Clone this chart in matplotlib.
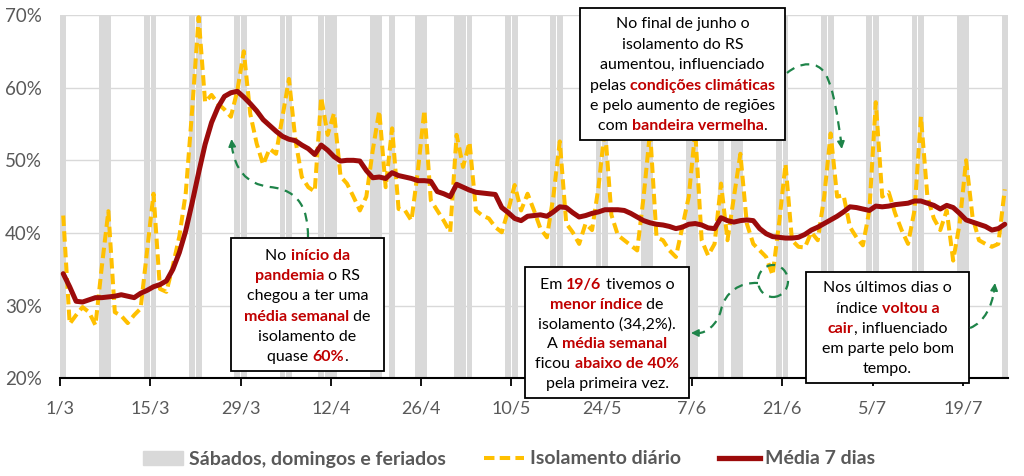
import numpy as np
import pandas as pd
import matplotlib
matplotlib.use("Agg")
import matplotlib.pyplot as plt
from matplotlib.patches import Rectangle, Ellipse, PathPatch, FancyArrowPatch, Patch
from matplotlib.lines import Line2D
from matplotlib.path import Path

# --- dados ---
inicio = "2020-03-01"

isolamento_diario = [
    42.4, 27.5, 28.7, 29.8, 29.1, 27.3, 35.5, 43.0, 29.1, 28.6,
    27.6, 28.7, 29.6, 37.5, 45.4, 32.3, 31.9, 35.5, 39.5, 45.5,
    57.0, 69.7, 58.0, 59.0, 57.8, 57.0, 56.0, 59.6, 65.0, 56.4,
    52.3, 49.4, 51.6, 50.9, 56.0, 61.2, 52.8, 47.7, 46.3, 45.7,
    58.7, 53.5, 56.5, 47.8, 46.8, 45.0, 43.1, 45.0, 51.4, 56.8,
    46.3, 54.4, 43.3, 43.1, 41.7, 48.6, 56.9, 44.5, 43.1, 41.7,
    40.1, 53.5, 49.1, 52.5, 43.1, 42.4, 42.0, 40.8, 40.1, 43.1,
    46.6, 43.1, 45.4, 43.1, 40.6, 39.4, 45.0, 52.6, 41.3, 40.1,
    38.5, 41.3, 40.4, 46.3, 54.5, 42.5, 39.7, 39.0, 38.3, 37.6,
    45.0, 54.0, 39.4, 39.0, 37.6, 36.7, 40.8, 45.0, 54.0, 39.0,
    36.9, 38.5, 46.8, 39.0, 45.0, 50.9, 41.3, 38.5, 37.6, 36.7,
    34.2, 41.3, 49.5, 39.0, 38.1, 38.0, 40.1, 39.0, 45.0, 53.7,
    45.0, 45.2, 40.8, 39.4, 38.3, 43.1, 58.0, 45.0, 45.6, 42.7,
    40.4, 38.5, 43.1, 56.0, 45.0, 42.0, 40.4, 43.1, 36.2, 41.3,
    50.0, 42.2, 39.0, 38.5, 38.1, 38.5, 46.0,
]

media_7_dias = [
    34.4, 32.6, 30.6, 30.5, 30.8, 31.1, 31.1, 31.2, 31.3, 31.5,
    31.3, 31.1, 31.7, 32.1, 32.6, 32.9, 33.4, 35.0, 37.3, 40.3,
    44.2, 48.3, 52.2, 55.2, 57.3, 58.8, 59.3, 59.5, 58.7, 57.8,
    56.8, 55.6, 54.8, 54.0, 53.3, 52.9, 52.7, 52.1, 51.6, 50.8,
    52.1, 51.4, 50.5, 49.9, 50.0, 50.0, 49.9, 48.6, 47.6, 47.7,
    47.5, 48.3, 47.9, 47.7, 47.5, 47.2, 47.2, 47.1, 45.7, 45.4,
    45.0, 46.7, 46.3, 45.9, 45.6, 45.5, 45.4, 45.3, 43.5, 42.8,
    42.0, 41.7, 42.3, 42.4, 42.5, 42.3, 42.9, 43.6, 43.5, 42.8,
    42.2, 42.4, 42.7, 42.9, 43.2, 43.2, 43.2, 43.1, 42.7, 42.2,
    41.7, 41.4, 41.2, 41.1, 40.9, 40.6, 40.8, 41.2, 41.3, 41.1,
    40.7, 40.6, 42.1, 41.7, 41.5, 41.7, 41.8, 41.7, 40.6, 39.9,
    39.5, 39.4, 39.3, 39.3, 39.4, 39.8, 40.4, 40.8, 41.3, 41.8,
    42.3, 42.9, 43.6, 43.5, 43.3, 43.1, 43.7, 43.6, 43.7, 43.9,
    44.0, 44.1, 44.4, 44.4, 44.1, 43.8, 43.3, 43.8, 43.5, 42.7,
    41.8, 41.5, 41.2, 40.9, 40.4, 40.6, 41.2,
]

# sábados, domingos e feriados
dias_cinza = [
    "2020-03-01", "2020-03-07", "2020-03-08", "2020-03-14", "2020-03-15",
    "2020-03-21", "2020-03-22", "2020-03-28", "2020-03-29",
    "2020-04-04", "2020-04-05", "2020-04-10", "2020-04-11", "2020-04-12",
    "2020-04-18", "2020-04-19", "2020-04-21", "2020-04-25", "2020-04-26",
    "2020-05-01", "2020-05-02", "2020-05-03", "2020-05-09", "2020-05-10",
    "2020-05-16", "2020-05-17", "2020-05-23", "2020-05-24", "2020-05-30",
    "2020-05-31", "2020-06-06", "2020-06-07", "2020-06-11", "2020-06-13",
    "2020-06-14", "2020-06-20", "2020-06-21", "2020-06-27", "2020-06-28",
    "2020-07-04", "2020-07-05", "2020-07-11", "2020-07-12", "2020-07-18",
    "2020-07-19", "2020-07-25",
]

xtick_labels = ["1/3", "15/3", "29/3", "12/4", "26/4", "10/5", "24/5",
                "7/6", "21/6", "5/7", "19/7"]
ytick_vals = [20, 30, 40, 50, 60, 70]
ytick_labels = ["20%", "30%", "40%", "50%", "60%", "70%"]

# --- cores ---
cinza = "#d9d9d9"
amarelo = "#ffc000"
vermelho = "#9c0b0b"
verm_txt = "#c00000"
verde = "#1e8449"
txt_cinza = "#595959"

plt.rcParams["font.family"] = ["Lato", "DejaVu Sans"]

W, H = 1024, 476
fig = plt.figure(figsize=(W / 100, H / 100), dpi=100)


def fx(x):
    return x / W


def fy(y):
    return 1 - y / H


ax = fig.add_axes([fx(60), fy(378.3), (1008 - 60) / W, (378.3 - 15) / H])

n = len(isolamento_diario)
x = np.arange(n) + 0.5
t0 = pd.Timestamp(inicio)
x_cinza = np.array([(pd.Timestamp(d) - t0).days for d in dias_cinza]) + 0.5

ax.bar(x_cinza, 50, bottom=20, width=0.92, color=cinza, zorder=1)
ax.plot(x, isolamento_diario, color=amarelo, lw=2.9, dashes=(2.6, 1.3), zorder=3)
ax.plot(x, media_7_dias, color=vermelho, lw=3.6, zorder=4, solid_capstyle="round")

ax.set_xlim(0, n)
ax.set_ylim(20, 70)
ax.set_axisbelow(True)
ax.yaxis.grid(True, color=cinza, lw=1)
ax.set_yticks(ytick_vals)
ax.set_yticklabels(ytick_labels)
ax.set_xticks(np.arange(len(xtick_labels)) * 14)
ax.set_xticklabels(xtick_labels)
for s in ["top", "right", "left"]:
    ax.spines[s].set_visible(False)
ax.spines["bottom"].set_color("black")
ax.spines["bottom"].set_linewidth(1.5)
ax.tick_params(axis="y", length=0, pad=13, labelsize=13.5, labelcolor=txt_cinza)
ax.tick_params(axis="x", direction="out", length=6, width=1.3, color="black",
               pad=10, labelsize=13, labelcolor=txt_cinza)

# --- legenda ---
handles = [
    Patch(color=cinza, label="Sábados, domingos e feriados"),
    Line2D([], [], color=amarelo, lw=2.9, dashes=(2.6, 1.3), label="Isolamento diário"),
    Line2D([], [], color=vermelho, lw=3.8, label="Média 7 dias"),
]
fig.legend(handles=handles, loc="center", bbox_to_anchor=(0.497, fy(459)), ncol=3,
           frameon=False, prop={"weight": "bold", "size": 14},
           labelcolor=txt_cinza, handlelength=2.1, handletextpad=0.28,
           columnspacing=1.95)

# --- caixas de texto ---
renderer = fig.canvas.get_renderer()


def largura(txt, bold, size):
    t1 = fig.text(0, 0, "|" + txt + "|", fontsize=size, weight="bold" if bold else "normal")
    t2 = fig.text(0, 0, "||", fontsize=size, weight="bold" if bold else "normal")
    w = t1.get_window_extent(renderer).width - t2.get_window_extent(renderer).width
    t1.remove()
    t2.remove()
    return w


def caixa(x0, y0, x1, y1, linhas, ys, size=11.5):
    fig.add_artist(Rectangle((fx(x0), fy(y1)), (x1 - x0) / W, (y1 - y0) / H,
                             transform=fig.transFigure, facecolor="white",
                             edgecolor="black", lw=1.3, zorder=5))
    cx = (x0 + x1) / 2
    for segs, yc in zip(linhas, ys):
        ws = [largura(s, b, size) for s, b in segs]
        xs = cx - sum(ws) / 2
        for (s, b), w in zip(segs, ws):
            fig.text(fx(xs), fy(yc + 5), s, fontsize=size, ha="left", va="baseline",
                     weight="bold" if b else "normal",
                     color=verm_txt if b else "black", zorder=6)
            xs += w


caixa(231, 238, 384, 371, [
    [("No ", 0), ("início da", 1)],
    [("pandemia", 1), (" o RS", 0)],
    [("chegou a ter uma", 0)],
    [("média semanal", 1), (" de", 0)],
    [("isolamento de", 0)],
    [("quase ", 0), ("60%", 1), (".", 0)],
], [255, 275, 295, 316, 336, 356])

caixa(525, 267, 689, 398, [
    [("Em ", 0), ("19/6", 1), (" tivemos o", 0)],
    [("menor índice", 1), (" de", 0)],
    [("isolamento (34,2%).", 0)],
    [("A ", 0), ("média semanal", 1)],
    [("ficou ", 0), ("abaixo de 40%", 1)],
    [("pela primeira vez.", 0)],
], [284, 304, 324, 343, 363, 383])

caixa(580, 8, 785, 140, [
    [("No final de junho o", 0)],
    [("isolamento do RS", 0)],
    [("aumentou, influenciado", 0)],
    [("pelas ", 0), ("condições climáticas", 1)],
    [("e pelo aumento de regiões", 0)],
    [("com ", 0), ("bandeira vermelha", 1), (".", 0)],
], [23, 44, 64, 85, 105, 125])

caixa(806, 272, 969, 383, [
    [("Nos últimos dias o", 0)],
    [("índice ", 0), ("voltou a", 1)],
    [("cair", 1), (", influenciado", 0)],
    [("em parte pelo bom", 0)],
    [("tempo.", 0)],
], [287, 308, 328, 348, 368])


# --- setas verdes tracejadas ---
def seta(pts, head):
    verts = [(fx(a), fy(b)) for a, b in pts]
    codes = [Path.MOVETO] + [Path.CURVE4] * (len(pts) - 1)
    fig.add_artist(PathPatch(Path(verts, codes), transform=fig.transFigure,
                             facecolor="none", edgecolor=verde, lw=1.6,
                             linestyle=(0, (4, 3)), zorder=7))
    (a0, b0), (a1, b1) = head
    fig.add_artist(FancyArrowPatch((fx(a0), fy(b0)), (fx(a1), fy(b1)),
                                   transform=fig.transFigure, arrowstyle="-|>",
                                   mutation_scale=11, color=verde, lw=1.2,
                                   shrinkA=0, shrinkB=0, zorder=7))


seta([(308, 237), (308, 210), (300, 190), (270, 187),
      (245, 184), (235, 168), (232, 147)], ((232.3, 148), (231.5, 139)))
seta([(787, 73), (800, 62), (818, 60), (826, 75),
      (834, 90), (838, 120), (841, 141)], ((840.8, 140), (841.8, 149)))
seta([(758, 283), (740, 282), (725, 292), (721, 310),
      (717, 326), (705, 333), (699, 333)], ((700, 333), (691, 333)))
seta([(970, 328), (985, 322), (992, 305), (994, 291)], ((994, 292), (995, 283)))

fig.add_artist(Ellipse((fx(773), fy(281)), 30 / W, 32 / H, transform=fig.transFigure,
                       facecolor="none", edgecolor=verde, lw=1.6,
                       linestyle=(0, (4, 3)), zorder=7))

fig.savefig("out.png", dpi=100)
